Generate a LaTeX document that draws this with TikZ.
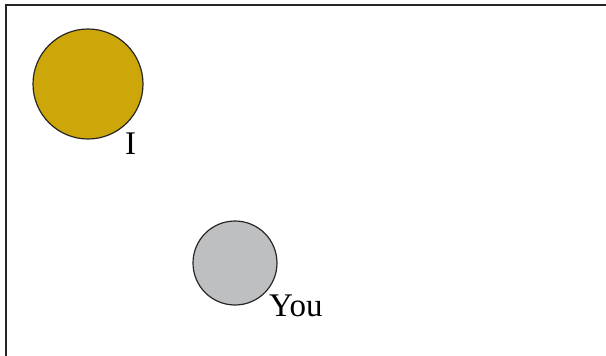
\documentclass[tikz,border=0pt]{standalone}
\usepackage{fontspec}
\setmainfont{Liberation Serif}
\usetikzlibrary{positioning}

\definecolor{goldball}{HTML}{CDA70A}
\definecolor{greyball}{HTML}{BEBFC1}

\begin{document}
\begin{tikzpicture}[
    x=1pt, y=-1pt,
    ball/.style={circle, draw=black!85, line width=1.2pt, inner sep=0pt},
    tag/.style={font=\fontsize{33}{38}\selectfont, inner sep=0pt}
]
\useasboundingbox (0,0) rectangle (606,356);
% frame
\draw[line width=2.8pt, black!85] (6,356) -- (6,5) -- (606,5);

\node[ball, fill=goldball, minimum size=110pt] (me) at (88,84) {};
\node[ball, fill=greyball, minimum size=84pt] (you) at (235,263) {};

\node[tag, anchor=base west] (metag) at (125,154) {I};
\node[tag, anchor=base west] (youtag) at (269,316) {You};
\end{tikzpicture}
\end{document}
